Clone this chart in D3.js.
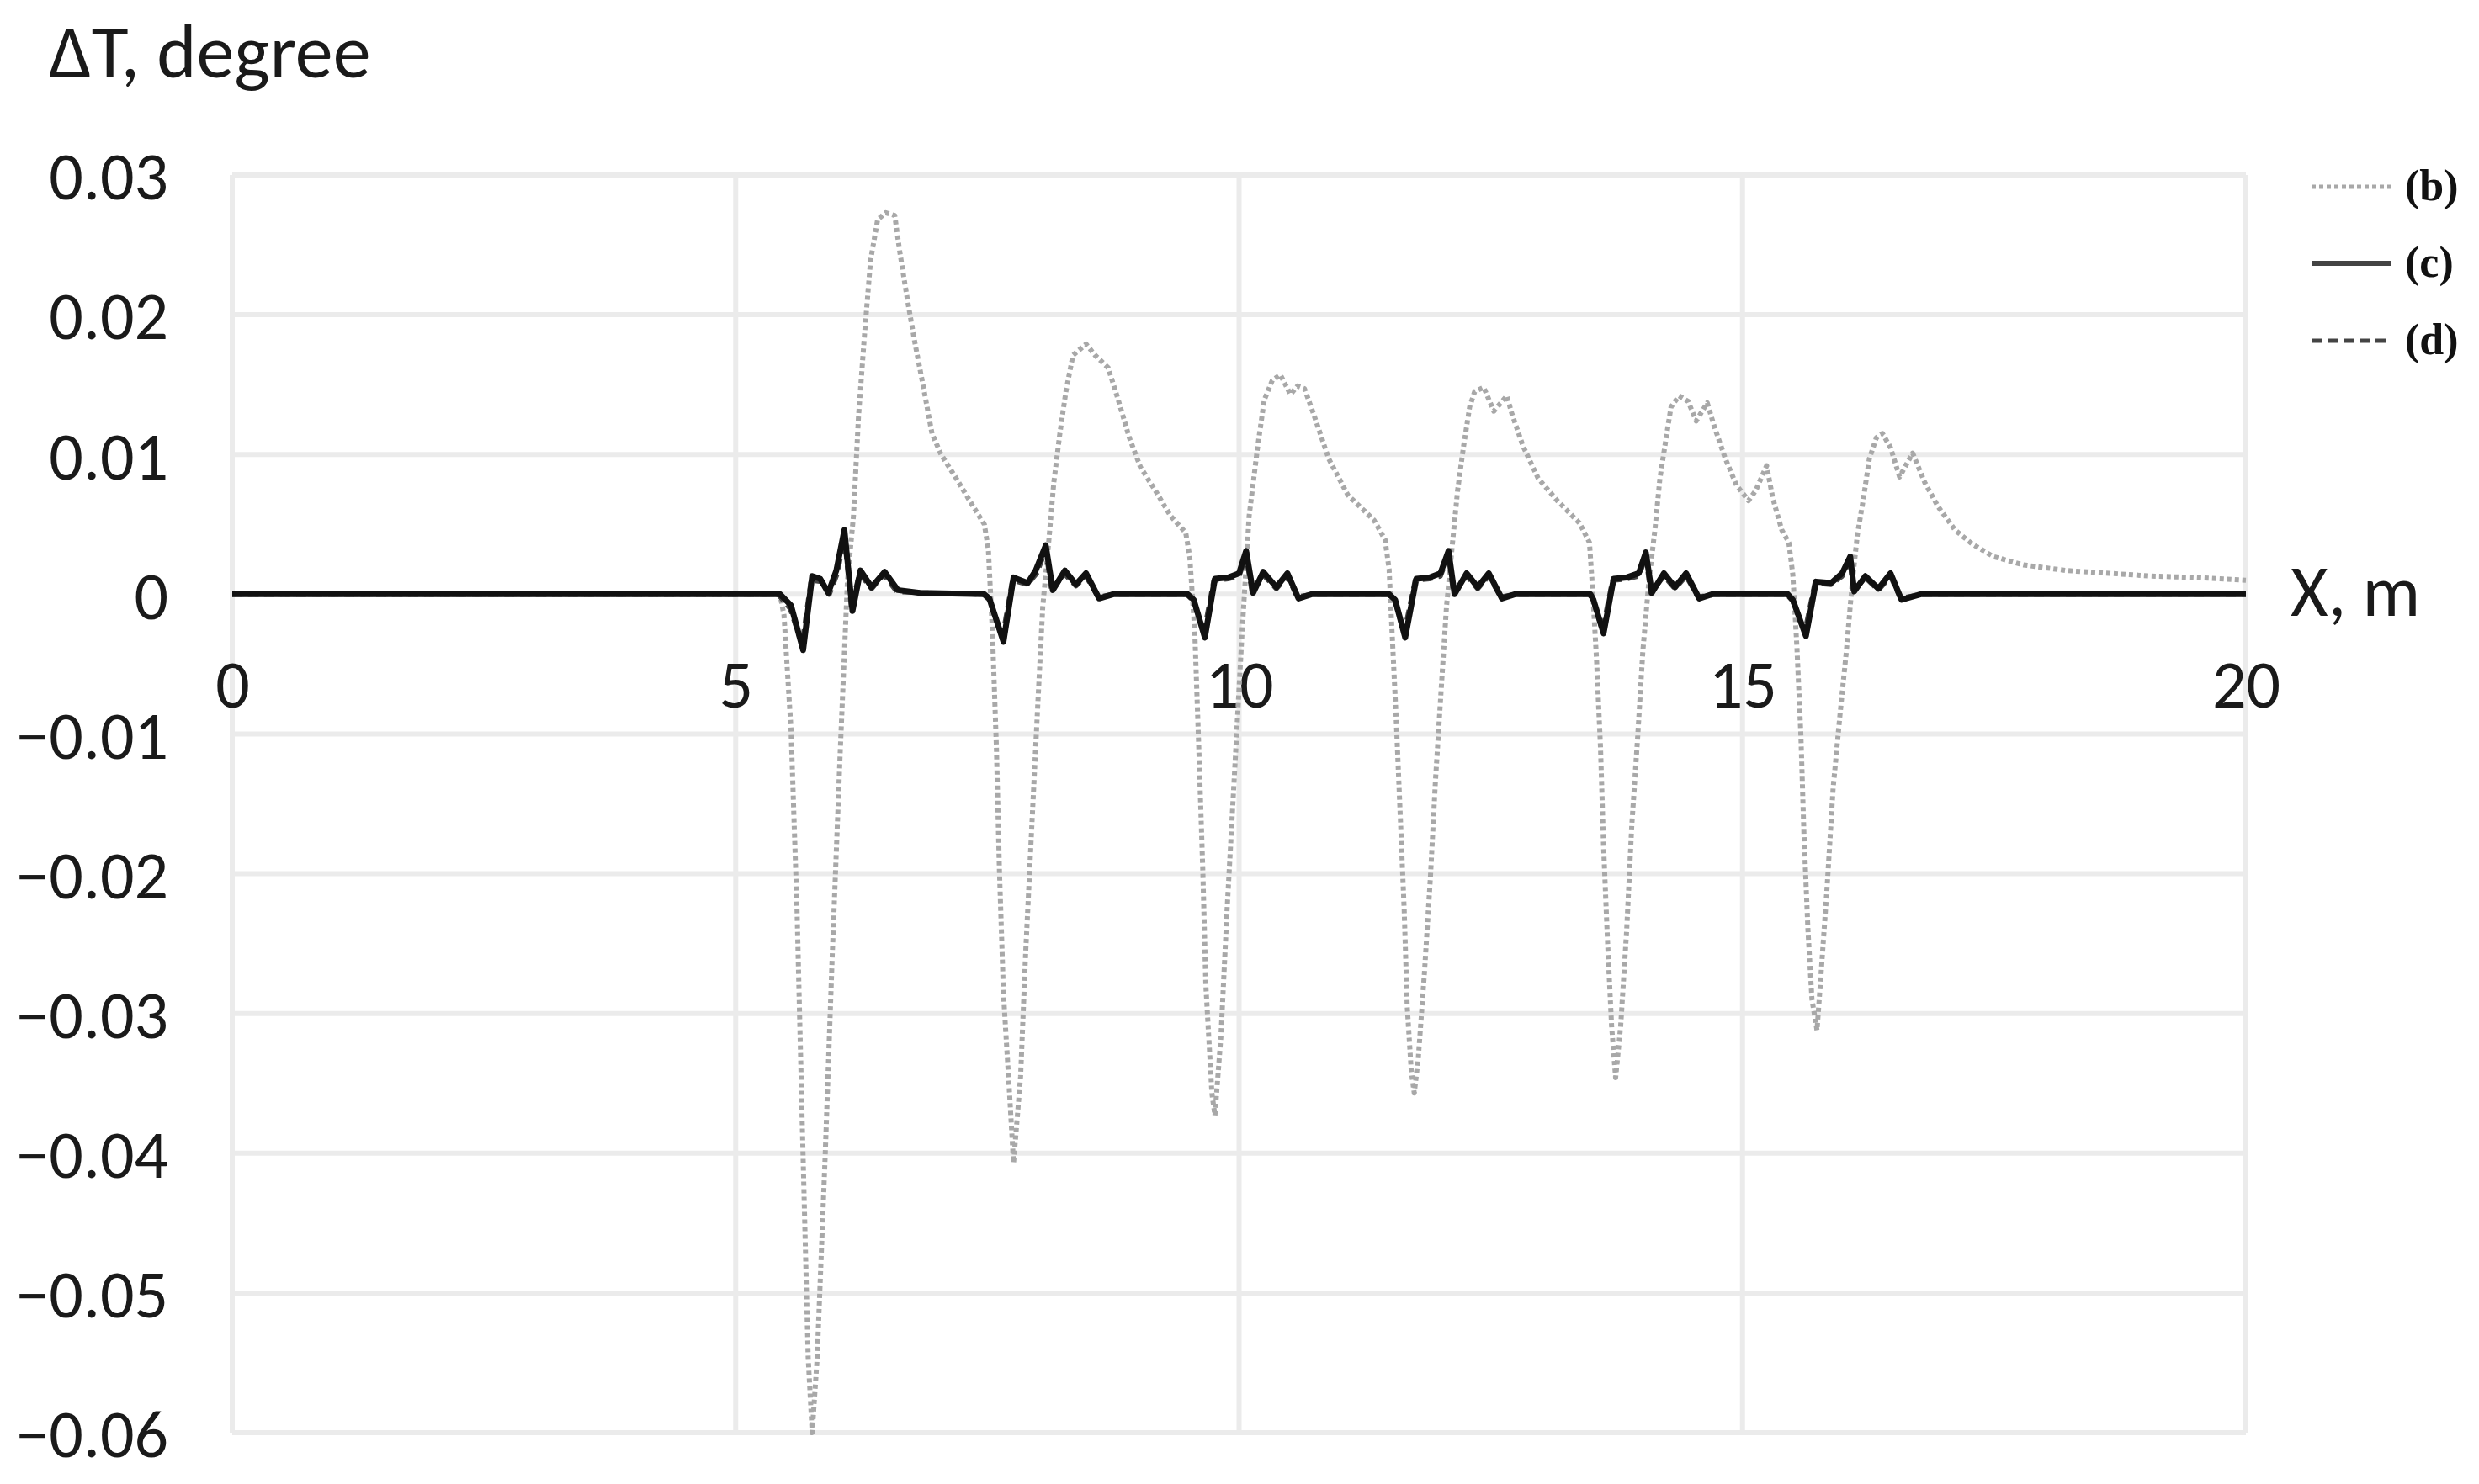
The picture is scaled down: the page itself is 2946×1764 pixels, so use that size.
<!DOCTYPE html>
<html>
<head>
<meta charset="utf-8">
<script src="https://cdn.jsdelivr.net/npm/d3@7"></script>
<style>
  html, body { margin: 0; padding: 0; background: #fff; }
  svg { display: block; }
</style>
</head>
<body>
<script>
// ---- Data ----
const xTicks = [0, 5, 10, 15, 20];
const xTickLabels = ["0", "5", "10", "15", "20"];
const yTicks = [0.03, 0.02, 0.01, 0, -0.01, -0.02, -0.03, -0.04, -0.05, -0.06];
const yTickLabels = ["0.03", "0.02", "0.01", "0", "\u22120.01", "\u22120.02", "\u22120.03", "\u22120.04", "\u22120.05", "\u22120.06"];
const seriesNames = ["(b)", "(c)", "(d)"];
const xLabel = "X, m";
const yLabel = "\u0394T, degree";

// series (b)
const bX = [0, 5.44, 5.48, 5.55, 5.61, 5.66, 5.72, 5.76, 5.81, 5.89, 5.96, 6.04, 6.11, 6.17, 6.22, 6.28, 6.34, 6.41, 6.49, 6.58, 6.63, 6.71, 6.78, 6.86, 6.95, 7.04, 7.19, 7.34, 7.47, 7.51, 7.55, 7.59, 7.62, 7.66, 7.72, 7.76, 7.83, 7.88, 7.94, 8.00, 8.05, 8.11, 8.16, 8.22, 8.28, 8.35, 8.48, 8.57, 8.70, 8.80, 8.91, 9.02, 9.17, 9.32, 9.47, 9.51, 9.56, 9.60, 9.64, 9.67, 9.73, 9.76, 9.82, 9.88, 9.96, 10.03, 10.10, 10.18, 10.25, 10.33, 10.41, 10.51, 10.58, 10.65, 10.74, 10.89, 11.08, 11.34, 11.45, 11.49, 11.52, 11.56, 11.60, 11.64, 11.67, 11.71, 11.74, 11.78, 11.84, 11.90, 11.95, 12.01, 12.06, 12.12, 12.17, 12.23, 12.29, 12.34, 12.43, 12.53, 12.66, 12.71, 12.82, 12.97, 13.16, 13.38, 13.48, 13.51, 13.55, 13.59, 13.62, 13.66, 13.70, 13.74, 13.79, 13.85, 13.90, 13.96, 14.01, 14.07, 14.13, 14.18, 14.24, 14.29, 14.37, 14.46, 14.54, 14.65, 14.72, 14.83, 14.94, 15.06, 15.13, 15.24, 15.30, 15.39, 15.46, 15.50, 15.54, 15.58, 15.61, 15.65, 15.69, 15.74, 15.78, 15.84, 15.90, 15.97, 16.03, 16.09, 16.14, 16.20, 16.26, 16.33, 16.39, 16.47, 16.56, 16.69, 16.81, 16.94, 17.11, 17.28, 17.49, 17.79, 18.21, 18.64, 19.06, 19.48, 20.00];
const bY = [0, 0, -0.0015, -0.0097, -0.0227, -0.0375, -0.0546, -0.0600, -0.0546, -0.0400, -0.0257, -0.0110, 0.0009, 0.0056, 0.0127, 0.0186, 0.0239, 0.0268, 0.0273, 0.0271, 0.0245, 0.0209, 0.0180, 0.0150, 0.0115, 0.0100, 0.0083, 0.0065, 0.0050, 0.0032, -0.0027, -0.0110, -0.0198, -0.0286, -0.0357, -0.0407, -0.0345, -0.0257, -0.0168, -0.0080, -0.0009, 0.0038, 0.0080, 0.0115, 0.0145, 0.0171, 0.0179, 0.0171, 0.0162, 0.0139, 0.0112, 0.0091, 0.0074, 0.0056, 0.0044, 0.0027, -0.0027, -0.0110, -0.0198, -0.0280, -0.0357, -0.0373, -0.0316, -0.0227, -0.0121, -0.0027, 0.0056, 0.0103, 0.0139, 0.0153, 0.0157, 0.0143, 0.0149, 0.0147, 0.0129, 0.0097, 0.0071, 0.0053, 0.0039, 0.0018, -0.0028, -0.0088, -0.0157, -0.0226, -0.0295, -0.0341, -0.0357, -0.0332, -0.0272, -0.0203, -0.0134, -0.0065, -0.0009, 0.0037, 0.0074, 0.0106, 0.0134, 0.0145, 0.0148, 0.0131, 0.0142, 0.0129, 0.0106, 0.0083, 0.0067, 0.0051, 0.0037, 0.0005, -0.0046, -0.0110, -0.0180, -0.0249, -0.0309, -0.0346, -0.0309, -0.0240, -0.0166, -0.0101, -0.0041, 0.0009, 0.0046, 0.0083, 0.0111, 0.0134, 0.0142, 0.0138, 0.0124, 0.0137, 0.0120, 0.0097, 0.0078, 0.0067, 0.0074, 0.0092, 0.0069, 0.0046, 0.0037, 0.0014, -0.0037, -0.0101, -0.0171, -0.0240, -0.0290, -0.0312, -0.0272, -0.0210, -0.0139, -0.0085, -0.0042, 0.0008, 0.0042, 0.0068, 0.0097, 0.0112, 0.0115, 0.0105, 0.0084, 0.0101, 0.0080, 0.0063, 0.0046, 0.0036, 0.0027, 0.0021, 0.0017, 0.0015, 0.0013, 0.0012, 0.0010];

// series (c)
const cX = [0, 5.44, 5.55, 5.67, 5.76, 5.84, 5.92, 6.00, 6.08, 6.16, 6.24, 6.35, 6.48, 6.61, 6.83, 7.47, 7.52, 7.66, 7.76, 7.90, 7.98, 8.08, 8.15, 8.27, 8.38, 8.48, 8.61, 8.75, 9.49, 9.55, 9.66, 9.76, 9.89, 10.00, 10.07, 10.14, 10.24, 10.37, 10.48, 10.59, 10.72, 11.49, 11.55, 11.65, 11.76, 11.89, 12.00, 12.08, 12.14, 12.26, 12.37, 12.48, 12.61, 12.74, 13.49, 13.52, 13.62, 13.72, 13.85, 13.97, 14.04, 14.10, 14.22, 14.33, 14.44, 14.57, 14.70, 15.45, 15.50, 15.63, 15.73, 15.88, 15.99, 16.07, 16.11, 16.22, 16.35, 16.47, 16.58, 16.77, 20];
const cY = [0, 0, -0.0008, -0.0040, 0.0013, 0.0011, 0.0001, 0.0017, 0.0046, -0.0012, 0.0017, 0.0005, 0.0016, 0.0003, 0.0001, 0, -0.0003, -0.0034, 0.0012, 0.0008, 0.0017, 0.0035, 0.0003, 0.0017, 0.0007, 0.0015, -0.0003, 0, 0, -0.0004, -0.0031, 0.0011, 0.0012, 0.0015, 0.0031, 0.0001, 0.0016, 0.0005, 0.0015, -0.0003, 0, 0, -0.0004, -0.0031, 0.0011, 0.0012, 0.0015, 0.0031, 0.0000, 0.0015, 0.0005, 0.0015, -0.0003, 0, 0, -0.0004, -0.0028, 0.0011, 0.0012, 0.0015, 0.0030, 0.0001, 0.0015, 0.0005, 0.0015, -0.0003, 0, 0, -0.0004, -0.0030, 0.0009, 0.0008, 0.0015, 0.0027, 0.0002, 0.0013, 0.0004, 0.0015, -0.0004, 0, 0];

// series (d)
const dX = [0, 5.42, 5.54, 5.66, 5.75, 5.85, 5.93, 6.01, 6.08, 6.15, 6.23, 6.35, 6.47, 6.60, 6.85, 7.46, 7.52, 7.65, 7.75, 7.90, 7.99, 8.08, 8.14, 8.26, 8.38, 8.48, 8.60, 8.76, 9.48, 9.55, 9.65, 9.75, 9.89, 10.00, 10.07, 10.13, 10.24, 10.37, 10.48, 10.58, 10.73, 11.48, 11.55, 11.64, 11.75, 11.89, 12.00, 12.08, 12.13, 12.26, 12.37, 12.48, 12.60, 12.75, 13.48, 13.52, 13.61, 13.71, 13.85, 13.97, 14.04, 14.09, 14.22, 14.33, 14.44, 14.56, 14.71, 15.44, 15.50, 15.62, 15.72, 15.88, 15.99, 16.07, 16.10, 16.22, 16.35, 16.47, 16.57, 16.78, 20];
const dY = [0, 0, -0.0010, -0.0036, 0.0010, 0.0009, 0.0000, 0.0015, 0.0042, -0.0010, 0.0015, 0.0004, 0.0014, 0.0002, 0.0001, 0, -0.0004, -0.0031, 0.0010, 0.0007, 0.0015, 0.0032, 0.0002, 0.0015, 0.0006, 0.0013, -0.0002, 0, 0, -0.0005, -0.0028, 0.0010, 0.0011, 0.0013, 0.0028, 0.0001, 0.0014, 0.0004, 0.0013, -0.0002, 0, 0, -0.0005, -0.0028, 0.0010, 0.0011, 0.0013, 0.0028, 0.0001, 0.0013, 0.0004, 0.0013, -0.0002, 0, 0, -0.0005, -0.0026, 0.0010, 0.0011, 0.0013, 0.0027, 0.0001, 0.0013, 0.0004, 0.0013, -0.0002, 0, 0, -0.0005, -0.0027, 0.0008, 0.0007, 0.0013, 0.0025, 0.0002, 0.0012, 0.0003, 0.0013, -0.0003, 0, 0];

// ---- Layout ----
const W = 2946, H = 1764;
const plot = { left: 276, right: 2669, top: 208, bottom: 1703 };
const tickFont = "Carlito, 'Noto Sans', 'Open Sans', sans-serif";

const svg = d3.select("body").append("svg")
  .attr("width", W).attr("height", H)
  .attr("viewBox", `0 0 ${W} ${H}`);

const x = d3.scaleLinear().domain([0, 20]).range([plot.left, plot.right]);
const y = d3.scaleLinear().domain([-0.06, 0.03]).range([plot.bottom, plot.top]);

// grid
const grid = svg.append("g");
grid.selectAll("line.h").data(yTicks).join("line")
  .attr("class", "h")
  .attr("x1", plot.left).attr("x2", plot.right)
  .attr("y1", d => y(d)).attr("y2", d => y(d))
  .attr("stroke", "#ebebeb").attr("stroke-width", 6);
grid.selectAll("line.v").data(xTicks).join("line")
  .attr("class", "v")
  .attr("x1", d => x(d)).attr("x2", d => x(d))
  .attr("y1", plot.top).attr("y2", plot.bottom)
  .attr("stroke", "#ebebeb").attr("stroke-width", 6);

// y axis labels
const yAxis = d3.axisLeft(y)
  .tickValues(yTicks)
  .tickFormat((d, i) => yTickLabels[i])
  .tickSize(0).tickPadding(76);
const gy = svg.append("g").attr("transform", `translate(${plot.left},0)`).call(yAxis);
gy.select(".domain").remove();
gy.selectAll("text")
  .attr("font-family", tickFont).attr("font-size", 80).attr("fill", "#1a1a1a")
  .attr("dy", "0.36em");

// x axis labels (along zero line)
const xAxis = d3.axisBottom(x)
  .tickValues(xTicks)
  .tickFormat((d, i) => xTickLabels[i])
  .tickSize(0).tickPadding(78);
const gx = svg.append("g").attr("transform", `translate(0,${y(0)})`).call(xAxis);
gx.select(".domain").remove();
gx.selectAll("text")
  .attr("font-family", tickFont).attr("font-size", 80).attr("fill", "#1a1a1a");

// axis titles
svg.append("text").attr("x", 58).attr("y", 92)
  .attr("font-family", tickFont).attr("font-size", 90).attr("fill", "#1a1a1a")
  .text(yLabel);
svg.append("text").attr("x", 2722).attr("y", 732)
  .attr("font-family", tickFont).attr("font-size", 86).attr("fill", "#1a1a1a")
  .text(xLabel);

// series
const line = d3.line().x(d => x(d[0])).y(d => y(d[1]));
const zip = (a, b) => a.map((v, i) => [v, b[i]]);
const styles = [
  { stroke: "#a8a8a8", width: 6, dash: "5,4" },
  { stroke: "#111111", width: 7, dash: null },
  { stroke: "#444444", width: 6, dash: "12,7" }
];
const seriesData = [zip(bX, bY), zip(cX, cY), zip(dX, dY)];
const drawOrder = [0, 2, 1];
drawOrder.forEach(i => {
  svg.append("path")
    .datum(seriesData[i])
    .attr("d", line)
    .attr("fill", "none")
    .attr("stroke", styles[i].stroke)
    .attr("stroke-width", styles[i].width)
    .attr("stroke-linejoin", "round")
    .attr("stroke-dasharray", styles[i].dash);
});

// legend
const legendY = [222, 313, 405];
const lg = svg.append("g");
seriesNames.forEach((name, i) => {
  lg.append("line")
    .attr("x1", 2747).attr("x2", 2842)
    .attr("y1", legendY[i]).attr("y2", legendY[i])
    .attr("stroke", i === 1 ? "#444" : styles[i].stroke)
    .attr("stroke-width", i === 1 ? 6 : 5)
    .attr("stroke-dasharray", styles[i].dash);
  lg.append("text")
    .attr("x", 2858).attr("y", legendY[i] + 16)
    .attr("font-family", "'Liberation Serif', 'Times New Roman', serif")
    .attr("font-weight", "bold").attr("font-size", 52).attr("fill", "#111")
    .text(name);
});
</script>
</body>
</html>
